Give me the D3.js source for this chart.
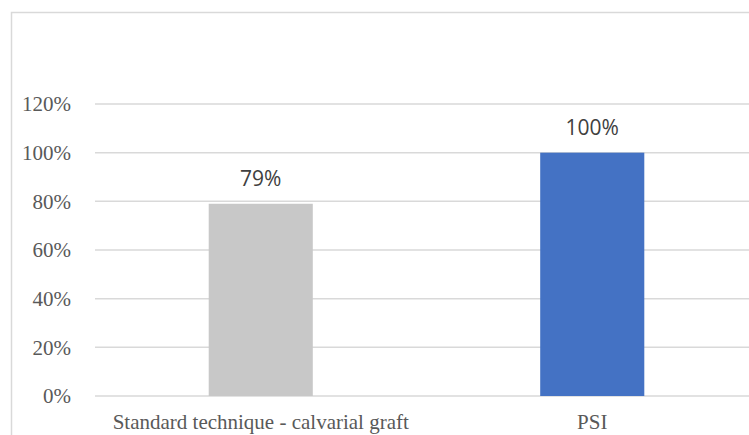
<!DOCTYPE html>
<html>
<head>
<meta charset="utf-8">
<script src="https://cdn.jsdelivr.net/npm/d3@7"></script>
<style>
  body { margin: 0; background: #fff; }
  svg { display: block; }
</style>
</head>
<body>
<svg id="chart"></svg>
<script>
var categories = ["Standard technique - calvarial graft", "PSI"];
var values = [0.79, 1.00];
var barColors = ["#c8c8c8", "#4472c4"];
var yTicks = [0, 0.2, 0.4, 0.6, 0.8, 1.0, 1.2];

var W = 749, H = 435;
var margin = {top: 104, right: -9, bottom: 39, left: 95}
  , width = W - margin.left - margin.right
  , height = H - margin.top - margin.bottom;

var svg = d3.select("#chart").attr("width", W).attr("height", H);

// chart frame (runs off the window on right and bottom)
svg.append("rect")
  .attr("x", 11.5).attr("y", 12.5)
  .attr("width", W + 20).attr("height", H + 20)
  .attr("fill", "none").attr("stroke", "#d9d9d9").attr("stroke-width", 1.5);

var g = svg.append("g").attr("transform", "translate(" + margin.left + "," + margin.top + ")");

var x = d3.scaleBand()
  .domain(categories)
  .range([0, width])
  .paddingInner(0.686)
  .paddingOuter(0.343);

var y = d3.scaleLinear()
  .domain([0, 1.2])
  .range([height, 0]);

// gridlines
g.selectAll("line.grid")
  .data(yTicks)
  .enter()
  .append("line")
    .attr("class", "grid")
    .attr("x1", 0).attr("x2", width)
    .attr("y1", function(d){ return y(d); })
    .attr("y2", function(d){ return y(d); })
    .attr("stroke", "#d9d9d9").attr("stroke-width", 1.5);

// y axis labels
var yAxis = d3.axisLeft(y).tickValues(yTicks).tickSize(0).tickPadding(24)
  .tickFormat(d3.format(".0%"));
var ya = g.append("g").call(yAxis);
ya.select(".domain").remove();
ya.selectAll("text")
  .attr("font-family", "Liberation Serif, serif")
  .attr("font-size", 21)
  .attr("fill", "#595959");

// bars
g.selectAll("rect.bar")
  .data(values)
  .enter()
  .append("rect")
    .attr("class", "bar")
    .attr("x", function(d, i){ return x(categories[i]); })
    .attr("width", x.bandwidth())
    .attr("y", function(d){ return y(d); })
    .attr("height", function(d){ return height - y(d); })
    .attr("fill", function(d, i){ return barColors[i]; });

// value labels
g.selectAll("text.val")
  .data(values)
  .enter()
  .append("text")
    .attr("class", "val")
    .attr("x", function(d, i){ return x(categories[i]) + x.bandwidth() / 2; })
    .attr("y", function(d){ return y(d) - 18; })
    .attr("text-anchor", "middle")
    .attr("font-family", "Open Sans, sans-serif")
    .attr("font-size", 21)
    .attr("fill", "#404040")
    .text(d3.format(".0%"));

// x axis labels
var xAxis = d3.axisBottom(x).tickSize(0).tickPadding(18);
var xa = g.append("g").attr("transform", "translate(0," + height + ")").call(xAxis);
xa.select(".domain").remove();
xa.selectAll("text")
  .attr("font-family", "Liberation Serif, serif")
  .attr("font-size", 21)
  .attr("fill", "#595959");
</script>
</body>
</html>
